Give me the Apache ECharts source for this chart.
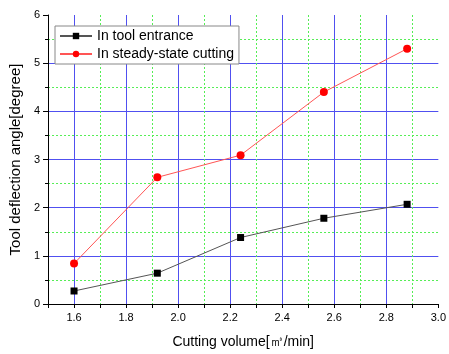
<!DOCTYPE html>
<html><head><meta charset="utf-8">
<script src="https://cdn.jsdelivr.net/npm/echarts@6/dist/echarts.min.js"></script>
<style>html,body{margin:0;padding:0;background:#fff}#c{width:449px;height:354px}</style>
</head><body><div id="c"></div>
<script>
const xValues = [1.6, 1.92, 2.24, 2.56, 2.88];
const entrance = [0.27, 0.64, 1.38, 1.78, 2.07];
const steady = [0.84, 2.63, 3.09, 4.40, 5.30];
const seriesNames = ['In tool entrance', 'In steady-state cutting'];
const xName = 'Cutting volume[\u33A5/min]';
const yName = 'Tool deflection angle[degree]';

const font = "'Liberation Sans', Arial, sans-serif";
const blue = '#5050f0';
const green = '#55ee55';
const chart = echarts.init(document.getElementById('c'), null, {renderer: 'canvas'});
chart.setOption({
  animation: false,
  backgroundColor: '#fff',
  grid: {left: 46, right: 10, top: 15, bottom: 48, containLabel: false},
  legend: {
    orient: 'vertical', left: 55, top: 26, padding: [3, 5, 3, 4], itemGap: 4,
    itemWidth: 32, itemHeight: 8, borderColor: '#888', borderWidth: 1,
    backgroundColor: '#fff',
    textStyle: {fontFamily: font, fontSize: 14, color: '#000'},
    data: seriesNames
  },
  xAxis: [{
    type: 'value', min: 1.5, max: 3.0, interval: 0.1,
    name: xName, nameLocation: 'middle', nameGap: 31,
    nameTextStyle: {fontFamily: font, fontSize: 14, color: '#000'},
    axisLine: {show: true, onZero: false, lineStyle: {color: '#000', width: 1}},
    axisTick: {show: true, length: 4, lineStyle: {color: '#000'}},
    axisLabel: {fontFamily: font, fontSize: 11, color: '#000', margin: 8,
      showMinLabel: true, showMaxLabel: true,
      formatter: v => (Math.round(v * 10) % 2 === 0) ? v.toFixed(1) : ''},
    splitLine: {show: true, showMinLine: false, showMaxLine: false,
      lineStyle: {color: [blue, 'transparent'], width: 1, type: 'solid'}}
  }, {
    type: 'value', min: 1.5, max: 3.0, interval: 0.1, position: 'bottom',
    axisLine: {show: false}, axisTick: {show: false}, axisLabel: {show: false},
    splitLine: {show: true, showMinLine: false, showMaxLine: false,
      lineStyle: {color: ['transparent', green], width: 1, type: [2, 2]}}
  }],
  yAxis: {
    type: 'value', min: 0, max: 6, interval: 1,
    name: yName, nameLocation: 'middle', nameGap: 23,
    nameTextStyle: {fontFamily: font, fontSize: 15, color: '#000'},
    axisLine: {show: true, lineStyle: {color: '#000', width: 1}},
    axisTick: {show: true, length: 5, lineStyle: {color: '#000'}},
    minorTick: {show: true, splitNumber: 2, length: 3, lineStyle: {color: '#000'}},
    axisLabel: {fontFamily: font, fontSize: 11, color: '#000', margin: 8},
    splitLine: {show: true, showMinLine: false, showMaxLine: false,
      lineStyle: {color: [blue], width: 1, type: 'solid'}},
    minorSplitLine: {show: true, lineStyle: {color: green, width: 1, type: [2, 2]}}
  },
  series: [{
    name: seriesNames[0], type: 'line', xAxisIndex: 0,
    data: xValues.map((x, i) => [x, entrance[i]]),
    symbol: 'rect', symbolSize: 7, z: 3,
    lineStyle: {color: '#555', width: 1},
    itemStyle: {color: '#000'}
  }, {
    name: seriesNames[1], type: 'line', xAxisIndex: 0,
    data: xValues.map((x, i) => [x, steady[i]]),
    symbol: 'circle', symbolSize: 8, z: 3,
    lineStyle: {color: '#ff5555', width: 1},
    itemStyle: {color: '#ff0000'}
  }]
});
</script></body></html>
